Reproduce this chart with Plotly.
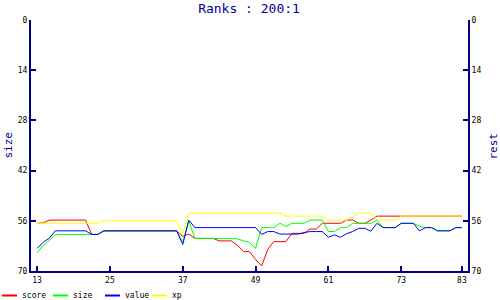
import plotly.graph_objects as go

# ---- data ----
ranks = list(range(13, 84))

score = [56.7, 56.6, 55.8, 55.8, 55.8, 55.8, 55.8, 55.8, 55.8, 59.8,
         59.8, 58.8, 58.8, 58.8, 58.8, 58.8, 58.8, 58.8, 58.8, 58.8,
         58.8, 58.8, 58.8, 58.8, 60.3, 59.7, 60.9, 60.9, 60.9, 60.9,
         61.6, 61.6, 61.6, 62.8, 64.6, 64.6, 66.8, 68.6, 64.0, 61.8,
         61.8, 61.8, 59.5, 59.5, 59.5, 58.3, 58.3, 56.7, 56.7, 56.7,
         56.7, 55.8, 55.8, 56.7, 56.7, 55.8, 54.7, 54.7, 54.7, 54.7,
         54.7, 54.7, 54.7, 54.7, 54.7, 54.7, 54.7, 54.7, 54.7, 54.7, 54.7]

size = [64.9, 62.9, 61.5, 59.8, 59.8, 59.8, 59.8, 59.8, 59.8, 59.8,
        59.8, 58.8, 58.8, 58.8, 58.8, 58.8, 58.8, 58.8, 58.8, 58.8,
        58.8, 58.8, 58.8, 58.8, 62.0, 56.0, 60.9, 60.9, 60.9, 60.9,
        60.9, 60.9, 60.9, 61.0, 61.6, 62.0, 63.7, 57.9, 57.9, 57.9,
        56.7, 57.6, 56.7, 56.7, 56.7, 55.8, 55.8, 55.8, 59.0, 59.0,
        57.9, 57.9, 56.7, 56.7, 56.7, 56.7, 55.8, 57.9, 57.9, 57.9,
        56.7, 56.7, 56.7, 57.5, 57.9, 57.9, 58.8, 58.8, 58.8, 57.9, 57.9]

value = [63.7, 62.0, 60.9, 58.8, 58.8, 58.8, 58.8, 58.8, 58.8, 59.8,
         59.8, 58.8, 58.8, 58.8, 58.8, 58.8, 58.8, 58.8, 58.8, 58.8,
         58.8, 58.8, 58.8, 58.8, 62.6, 55.8, 57.9, 57.9, 57.9, 57.9,
         57.9, 57.9, 57.9, 57.9, 57.9, 57.9, 57.9, 59.8, 59.0, 59.0,
         59.7, 59.7, 59.7, 59.7, 59.3, 59.0, 59.0, 59.0, 60.6, 59.9,
         60.6, 59.6, 59.0, 58.1, 58.1, 58.9, 56.7, 57.9, 57.9, 57.9,
         56.7, 56.7, 56.7, 58.8, 57.9, 57.9, 58.8, 58.8, 58.8, 57.9, 57.9]

xp = [56.7, 56.7, 56.7, 56.7, 56.7, 56.7, 56.7, 56.7, 56.7, 56.7,
      56.7, 55.9, 55.9, 55.9, 55.9, 55.9, 55.9, 55.9, 55.9, 55.9,
      55.9, 55.9, 55.9, 55.9, 59.5, 53.9, 53.9, 53.9, 53.9, 53.9,
      53.9, 53.9, 53.9, 53.9, 53.9, 53.9, 53.9, 53.9, 53.9, 53.9,
      53.9, 54.7, 54.7, 54.7, 54.7, 54.7, 54.7, 54.7, 55.8, 55.8,
      55.8, 55.8, 54.9, 53.9, 53.9, 53.9, 55.8, 55.8, 55.8, 55.8,
      54.7, 54.7, 54.7, 54.7, 54.7, 54.7, 54.7, 54.7, 54.7, 54.7, 54.7]

series_names = ["score", "size", "value", "xp"]
series_colors = ["#ff0000", "#00ff00", "#0000ff", "#ffff00"]
series_axes = ["y", "y", "y2", "y2"]
x_ticks = [13, 25, 37, 49, 61, 73, 83]
y_ticks = [0, 14, 28, 42, 56, 70]
left_title = "size"
right_title = "rest"
chart_title = "Ranks : 200:1"

# ---- layout geometry (pixels) ----
W, H = 500, 300
L, R, T, B = 31, 32, 20, 29
PW, PH = W - L - R, H - T - B
AX = "#000080"
TXT = "#000099"
FONT = "DejaVu Sans Mono"

def px2paper_x(px):
    return (px - L) / PW

def px2paper_y(py):
    return (H - B - py) / PH

fig = go.Figure()
for name, vals, col, ax in zip(series_names, [score, size, value, xp], series_colors, series_axes):
    fig.add_trace(go.Scatter(x=ranks, y=vals, name=name, mode="lines",
                             line=dict(color=col, width=1), yaxis=ax,
                             showlegend=False))

axis_common = dict(showline=True, linecolor=AX, linewidth=2, ticks="inside",
                   ticklen=5, tickcolor=AX, tickwidth=1.5, showgrid=False,
                   zeroline=False, automargin=False,
                   tickfont=dict(family=FONT, size=8, color="black"))

fig.update_layout(
    width=W, height=H,
    margin=dict(l=L, r=R, t=T, b=B, pad=0),
    paper_bgcolor="white", plot_bgcolor="white",
    title=dict(text=chart_title, x=px2paper_x(249), xref="paper", xanchor="center",
               y=1 - 8 / H, yanchor="middle",
               font=dict(family=FONT, size=13, color=TXT)),
    xaxis=dict(range=[12, 84], tickvals=x_ticks, **axis_common),
    yaxis=dict(range=[70, 0], tickvals=y_ticks, **axis_common),
    yaxis2=dict(range=[70, 0], tickvals=y_ticks, overlaying="y", side="right",
                **axis_common),
    showlegend=False,
)

# axis titles
fig.add_annotation(xref="paper", yref="paper", x=px2paper_x(8), y=0.5,
                   text=left_title, showarrow=False, textangle=-90,
                   xanchor="center", yanchor="middle",
                   font=dict(family=FONT, size=11, color=TXT))
fig.add_annotation(xref="paper", yref="paper", x=px2paper_x(493), y=0.5,
                   text=right_title, showarrow=False, textangle=-90,
                   xanchor="center", yanchor="middle",
                   font=dict(family=FONT, size=11, color=TXT))

# ---- custom legend below the plot ----
legend_px = [2, 53, 105, 152]
leg_y = 295.5

for name, col, lx in zip(series_names, series_colors, legend_px):
    fig.add_shape(type="line", xref="paper", yref="paper",
                  x0=px2paper_x(lx), x1=px2paper_x(lx + 15),
                  y0=px2paper_y(leg_y), y1=px2paper_y(leg_y),
                  line=dict(color=col, width=2))
    fig.add_annotation(xref="paper", yref="paper", x=px2paper_x(lx + 18),
                       y=px2paper_y(leg_y), text=name, showarrow=False,
                       xanchor="left", yanchor="middle",
                       font=dict(family=FONT, size=8, color="black"))

fig.write_html("out.html")
